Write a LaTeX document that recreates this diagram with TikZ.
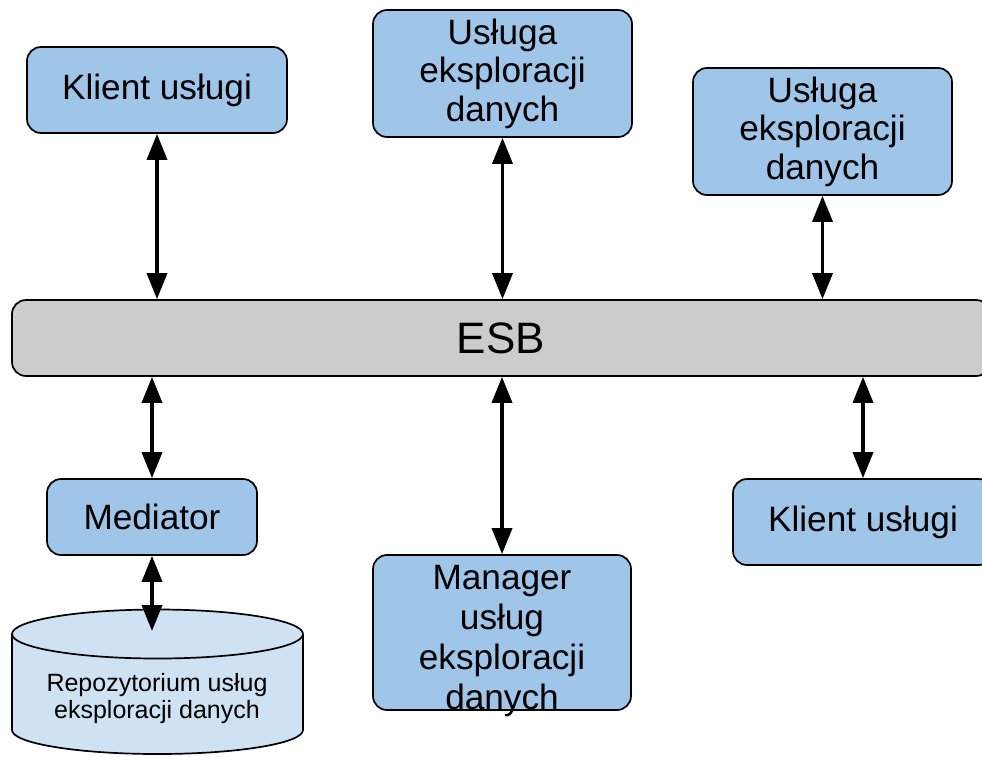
\documentclass[tikz,border=0pt]{standalone}
\usepackage{fontspec}
\setmainfont{Liberation Sans}
\usetikzlibrary{arrows.meta}
\definecolor{boxblue}{HTML}{9FC5E8}
\definecolor{cylblue}{HTML}{CFE2F3}
\definecolor{esbgray}{HTML}{CCCCCC}
\begin{document}
\begin{tikzpicture}[x=1pt,y=-1pt,
  box/.style={draw=black, line width=1.7pt, fill=boxblue, rounded corners=14pt,
    inner sep=0pt, align=center, font=\fontsize{35.2}{38.5}\selectfont},
  biarrow/.style={line width=3.5pt,
    {Triangle[width=20pt,length=26pt]}-{Triangle[width=20pt,length=26pt]}},
  cylline/.style={draw=black, line width=1.7pt},
]
\useasboundingbox (0,0) rectangle (982,756);
\clip (0,0) rectangle (982,756);

% boxes
\node[box, minimum width=260pt, minimum height=86pt] (k1) at (157,90) {Klient usługi};
\node[box, minimum width=259pt, minimum height=127pt] (u1) at (502.5,73.5) {Usługa\\eksploracji\\danych};
\node[box, minimum width=259pt, minimum height=127pt] (u2) at (822.5,131.5) {Usługa\\eksploracji\\danych};
\node[box, fill=esbgray, minimum width=978pt, minimum height=76pt,
      font=\fontsize{44}{50}\selectfont] (esb) at (501,338) {ESB};
\node[box, minimum width=210pt, minimum height=76pt] (med) at (152,517) {Mediator};
\node[box, minimum width=258pt, minimum height=155pt] (man) at (502,632.5) {};
\node[align=center, inner sep=0pt, font=\fontsize{35.2}{40}\selectfont] (mantext) at (502,641)
  {Manager\\usług\\eksploracji\\danych};
\node[box, minimum width=260pt, minimum height=86pt] (k2) at (863,522) {Klient usługi};

% cylinder
\fill[cylblue] (12,634) -- (12,730) arc[start angle=180, end angle=0, x radius=145.5, y radius=24]
  -- (303,634) arc[start angle=0, end angle=-180, x radius=145.5, y radius=24.5] -- cycle;
\draw[cylline] (12,634) -- (12,730) arc[start angle=180, end angle=0, x radius=145.5, y radius=24] -- (303,634);
\draw[cylline] (157.5,634) ellipse [x radius=145.5, y radius=24.5];
\node[align=center, inner sep=0pt, font=\fontsize{25}{27}\selectfont] (cyltext) at (157,698.5)
  {Repozytorium usług\\eksploracji danych};
\coordinate (cyltop) at (152,631);

% connectors
\draw[biarrow] (k1.south) -- (k1.south |- esb.north);
\draw[biarrow] (u1.south) -- (u1.south |- esb.north);
\draw[biarrow] (u2.south) -- (u2.south |- esb.north);
\draw[biarrow] (esb.south -| med.north) -- (med.north);
\draw[biarrow] (esb.south -| man.north) -- (man.north);
\draw[biarrow] (esb.south -| k2.north) -- (k2.north);
\draw[biarrow] (med.south) -- (cyltop);
\end{tikzpicture}
\end{document}
